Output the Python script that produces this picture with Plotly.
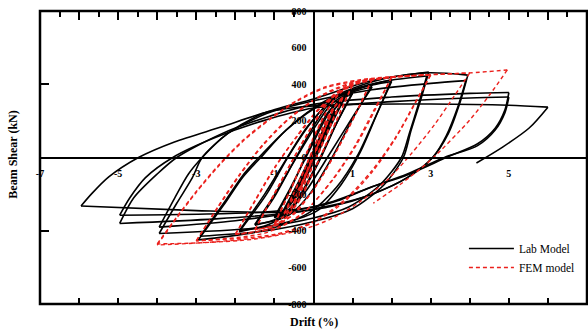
import plotly.graph_objects as go

# ---------------- data ----------------
# Each branch runs from one turning point to the next (drift %, beam shear kN)
LAB_X = [
    [0, -0.2, -0.4],
    [-0.4, 0, 0.4],
    [0.4, 0, -0.5],
    [-0.5, -0.2, 0.2, 0.55],
    [0.55, 0.25, -0.15, -0.5],
    [-0.5, -0.2, 0.2, 0.55],
    [0.55, 0.2, -0.3, -0.6, -0.75],
    [-0.75, -0.35, 0.1, 0.5, 0.75],
    [0.75, 0.4, -0.1, -0.55, -0.8],
    [-0.8, -0.4, 0.05, 0.5, 0.8],
    [0.8, 0.4, -0.1, -0.6, -1.0],
    [-1.0, -0.6, -0.15, 0.35, 0.7, 1.0],
    [1.0, 0.6, 0.1, -0.45, -0.75, -1.0],
    [-1.0, -0.6, -0.1, 0.4, 0.7, 1.0],
    [1.0, 0.6, 0.1, -0.45, -0.9, -1.5],
    [-1.5, -1.0, -0.5, 0.0, 0.4, 0.9, 1.5],
    [1.5, 1.05, 0.5, -0.1, -0.6, -1.0, -1.5],
    [-1.5, -1.0, -0.45, 0.05, 0.45, 0.9, 1.5],
    [1.5, 1.0, 0.4, -0.2, -0.7, -1.2, -1.9],
    [-1.9, -1.2, -0.66, -0.1, 0.5, 1.2, 2.0],
    [2.0, 1.6, 1.2, 0.7, 0.1, -0.8, -1.9],
    [-1.9, -1.25, -0.7, -0.15, 0.5, 1.2, 2.0],
    [2.0, 1.55, 1.15, 0.6, -0.1, -1.2, -2.95],
    [-2.95, -2.3, -1.8, -1.35, -0.7, 0.0, 0.8, 1.8, 2.95],
    [2.95, 2.75, 2.5, 2.3, 1.8, 1.0, 0.0, -1.2, -2.9],
    [-2.9, -2.3, -1.8, -1.4, -0.7, 0.0, 0.8, 1.8, 2.9],
    [2.9, 2.7, 2.45, 2.25, 1.7, 0.9, 0.0, -1.5, -3.95],
    [-3.95, -3.5, -3.1, -2.85, -2.2, -1.3, 0.0, 1.5, 2.9, 3.95],
    [3.95, 3.75, 3.45, 3.05, 2.4, 1.5, 0.5, -0.5, -2.0, -3.95],
    [-3.95, -3.55, -3.2, -2.85, -2.2, -1.2, 0.0, 1.5, 3.0, 3.9],
    [3.9, 3.7, 3.4, 3.05, 2.4, 1.5, 0.5, -0.5, -2.5, -4.96],
    [-4.96, -4.6, -4.0, -3.5, -2.4, -1.2, 0.0, 2.0, 4.0, 5.0],
    [5.0, 4.9, 4.65, 4.2, 3.4, 2.4, 1.5, 0.7, 0.0, -1.5, -4.96],
    [-4.96, -4.7, -4.3, -3.6, -2.5, -1.3, 0.0, 2.0, 4.0, 5.0],
    [5.0, 4.9, 4.65, 4.2, 3.35, 2.4, 1.5, 0.5, -0.5, -1.0, -3.0, -5.95],
    [-5.95, -5.67, -5.24, -4.48, -3.56, -2.37, -1.17, -0.33, 1.0, 3.0, 5.0, 6.0],
    [6.0, 5.52, 4.84, 4.17],
]
LAB_Y = [
    [0, -95, -185],
    [-185, 5, 195],
    [195, 0, -235],
    [-235, -80, 100, 255],
    [255, 115, -65, -240],
    [-240, -90, 95, 250],
    [250, 90, -120, -245, -290],
    [-290, -135, 70, 250, 320],
    [320, 165, -50, -240, -300],
    [-300, -140, 60, 255, 325],
    [325, 155, -70, -260, -330],
    [-330, -180, 30, 240, 320, 355],
    [355, 190, -40, -250, -310, -325],
    [-325, -170, 40, 245, 315, 350],
    [350, 190, -30, -240, -330, -370],
    [-370, -215, -20, 170, 295, 360, 395],
    [395, 230, 10, -200, -310, -345, -365],
    [-365, -205, -5, 170, 290, 350, 385],
    [385, 220, 15, -185, -310, -370, -405],
    [-405, -200, 0, 180, 320, 385, 425],
    [425, 225, 30, -150, -290, -360, -400],
    [-400, -200, -10, 170, 315, 380, 415],
    [415, 205, 20, -160, -300, -395, -450],
    [-450, -260, -105, 0, 150, 270, 360, 430, 467],
    [467, 320, 150, 0, -150, -280, -350, -400, -430],
    [-430, -250, -95, 0, 150, 265, 350, 415, 445],
    [445, 300, 130, 0, -150, -270, -330, -385, -415],
    [-415, -250, -110, 0, 130, 240, 320, 420, 462, 450],
    [450, 300, 130, 0, -110, -200, -260, -300, -345, -380],
    [-380, -220, -90, 0, 130, 240, 310, 370, 405, 420],
    [420, 280, 120, 0, -110, -200, -265, -300, -335, -360],
    [-360, -220, -90, 0, 125, 220, 290, 330, 350, 355],
    [355, 260, 160, 75, 0, -95, -160, -230, -270, -300, -315],
    [-315, -220, -110, 0, 110, 200, 270, 305, 325, 330],
    [330, 245, 150, 65, 0, -90, -160, -240, -290, -300, -290, -265],
    [-265, -196, -106, 0, 85, 166, 249, 276, 290, 292, 285, 275],
    [275, 161, 57, -30],
]

FEM_X = [
    [0, -0.375],
    [-0.375, 0, 0.375],
    [0.375, 0, -0.5],
    [-0.5, -0.15, 0.2, 0.5],
    [0.5, 0.15, -0.2, -0.5],
    [-0.5, -0.15, 0.2, 0.5],
    [0.5, 0.1, -0.35, -0.75],
    [-0.75, -0.35, 0.1, 0.45, 0.75],
    [0.75, 0.35, -0.1, -0.5, -0.75],
    [-0.75, -0.35, 0.1, 0.45, 0.75],
    [0.75, 0.35, -0.15, -0.6, -1.0],
    [-1.0, -0.6, -0.15, 0.3, 0.65, 1.0],
    [1.0, 0.6, 0.15, -0.35, -0.7, -1.0],
    [-1.0, -0.6, -0.15, 0.3, 0.65, 1.0],
    [1.0, 0.6, 0.1, -0.4, -0.9, -1.5],
    [-1.5, -1.05, -0.55, -0.05, 0.45, 0.95, 1.5],
    [1.5, 1.1, 0.6, 0.05, -0.5, -1.0, -1.5],
    [-1.5, -1.0, -0.5, 0.0, 0.5, 1.0, 1.5],
    [1.5, 1.1, 0.55, -0.05, -0.7, -1.3, -2.0],
    [-2.0, -1.5, -1.0, -0.45, 0.15, 0.8, 1.4, 2.0],
    [2.0, 1.6, 1.1, 0.5, -0.2, -0.9, -2.0],
    [-2.0, -1.5, -1.0, -0.4, 0.2, 0.85, 1.45, 2.0],
    [2.0, 1.55, 1.05, 0.45, -0.3, -1.2, -3.0],
    [-3.0, -2.45, -1.9, -1.3, -0.6, 0.2, 1.0, 2.0, 3.0],
    [3.0, 2.6, 2.1, 1.5, 0.8, 0.0, -1.0, -3.0],
    [-3.0, -2.45, -1.9, -1.3, -0.6, 0.2, 1.0, 2.0, 3.0],
    [3.0, 2.6, 2.1, 1.5, 0.8, 0.0, -1.0, -2.5, -4.0],
    [-4.0, -3.5, -3.0, -2.4, -1.8, -1.1, -0.4, 0.3, 1.2, 2.5, 4.0],
    [4.0, 3.6, 3.1, 2.5, 1.9, 1.2, 0.5, -0.3, -1.5, -2.8, -4.0],
    [-4.0, -3.5, -3.0, -2.4, -1.8, -1.1, -0.4, 0.3, 1.2, 2.5, 4.0, 4.96],
    [4.96, 4.5, 4.0, 3.0, 2.2, 1.53],
]
FEM_Y = [
    [0, -190],
    [-190, 10, 200],
    [200, 0, -245],
    [-245, -60, 120, 265],
    [265, 90, -95, -250],
    [-250, -65, 115, 260],
    [260, 60, -160, -305],
    [-305, -120, 100, 255, 330],
    [330, 140, -80, -250, -310],
    [-310, -125, 95, 250, 325],
    [325, 130, -110, -290, -360],
    [-360, -180, 40, 240, 350, 400],
    [400, 210, -10, -220, -330, -365],
    [-365, -185, 35, 235, 345, 395],
    [395, 205, -30, -250, -360, -395],
    [-395, -215, -20, 170, 330, 400, 430],
    [430, 250, 40, -160, -310, -370, -395],
    [-395, -200, 0, 180, 330, 400, 428],
    [428, 245, 20, -190, -340, -400, -420],
    [-420, -240, -60, 110, 270, 380, 420, 440],
    [440, 270, 70, -120, -290, -380, -418],
    [-418, -235, -55, 120, 275, 380, 420, 438],
    [438, 260, 60, -130, -310, -410, -455],
    [-455, -270, -95, 70, 220, 340, 410, 440, 452],
    [452, 300, 110, -70, -230, -350, -420, -455],
    [-455, -275, -100, 65, 215, 335, 405, 438, 450],
    [450, 295, 105, -80, -240, -355, -425, -460, -478],
    [-478, -330, -190, -40, 90, 210, 310, 380, 420, 445, 462],
    [462, 335, 180, 20, -120, -240, -330, -395, -445, -465, -472],
    [-472, -325, -185, -35, 95, 215, 315, 385, 425, 448, 462, 478],
    [478, 340, 205, -14, -150, -250],
]

X_TICKS = [-7, -5, -3, -1, 1, 3, 5]
X_TICK_TEXT = ["-7", "-5", "-3", "-1", "1", "3", "5"]
Y_TICKS = [-800, -600, -400, -200, 0, 200, 400, 600, 800]
Y_TICK_TEXT = ["-800", "-600", "-400", "-200", "0", "200", "400", "600", "800"]
FRAME_BOTTOM_TICKS = [-6, -5, -4, -3, -2, -1, 1, 2, 3, 4, 5, 6]
FRAME_TOP_MAJOR = [-6, -5, -4, -3, -2, -1, 1, 2, 3, 4, 5, 6]
FRAME_TOP_MINOR = [-6.5, -5.5, -4.5, -3.5, -2.5, -1.5, -0.5, 0.5, 1.5, 2.5, 3.5, 4.5, 5.5, 6.5]
FRAME_LEFT_TICKS = [-400, 400]
X_RANGE = [-7, 7]
Y_RANGE = [-800, 800]

SERIF = "Liberation Serif, Times New Roman, serif"
RED = "rgb(235,32,28)"

fig = go.Figure()
for i, (xs, ys) in enumerate(zip(LAB_X, LAB_Y)):
    fig.add_trace(go.Scatter(
        x=xs, y=ys, mode="lines", name="Lab Model", legendgroup="lab",
        showlegend=(i == 0),
        line=dict(color="black", width=1.6, shape="spline", smoothing=0.8),
        hoverinfo="skip"))
for i, (xs, ys) in enumerate(zip(FEM_X, FEM_Y)):
    fig.add_trace(go.Scatter(
        x=xs, y=ys, mode="lines", name="FEM model", legendgroup="fem",
        showlegend=(i == 0),
        line=dict(color=RED, width=1.4, dash="4px,3px", shape="spline", smoothing=0.8),
        hoverinfo="skip"))

# empty traces so the frame-tick axes get drawn
for xa, ya in [("x2", "y"), ("x3", "y"), ("x4", "y"), ("x", "y2")]:
    fig.add_trace(go.Scatter(x=[None], y=[None], xaxis=xa, yaxis=ya, mode="lines",
                             showlegend=False, hoverinfo="skip"))

tickfont = dict(family=SERIF, size=10, color="black", weight="bold")
frame_tick = dict(showline=False, showgrid=False, zeroline=False, showticklabels=False,
                  tickcolor="black", tickwidth=2, ticks="inside", tickmode="array",
                  layer="above traces")

fig.update_layout(
    width=588, height=335,
    margin=dict(l=40, r=1, t=11, b=31),
    paper_bgcolor="white", plot_bgcolor="white",
    showlegend=True,
    legend=dict(x=0.775, y=0.239, xanchor="left", yanchor="top",
                bgcolor="rgba(0,0,0,0)", borderwidth=0, itemwidth=45,
                font=dict(family=SERIF, size=11.5, color="black"),
                tracegroupgap=0),
    xaxis=dict(range=X_RANGE, anchor="free", position=0.5, showline=True,
               linecolor="black", linewidth=2, showgrid=False, zeroline=False,
               tickmode="array", tickvals=X_TICKS, ticktext=X_TICK_TEXT,
               ticks="", tickfont=tickfont, ticklabelstandoff=6),
    yaxis=dict(range=Y_RANGE, anchor="free", position=0.5, showline=True,
               linecolor="black", linewidth=2, showgrid=False, zeroline=False,
               tickmode="array", tickvals=Y_TICKS, ticktext=Y_TICK_TEXT,
               ticks="", tickfont=tickfont, ticklabelstandoff=4),
    xaxis2=dict(overlaying="x", range=X_RANGE, anchor="free", position=0, side="bottom",
                tickvals=FRAME_BOTTOM_TICKS, ticklen=6, **frame_tick),
    xaxis3=dict(overlaying="x", range=X_RANGE, anchor="free", position=1, side="top",
                tickvals=FRAME_TOP_MAJOR, ticklen=8, **frame_tick),
    xaxis4=dict(overlaying="x", range=X_RANGE, anchor="free", position=1, side="top",
                tickvals=FRAME_TOP_MINOR, ticklen=5, **frame_tick),
    yaxis2=dict(overlaying="y", range=Y_RANGE, anchor="free", position=0, side="left",
                tickvals=FRAME_LEFT_TICKS, ticklen=8, **frame_tick),
    shapes=[dict(type="rect", xref="paper", yref="paper", x0=0, x1=1, y0=0, y1=1,
                 line=dict(color="black", width=2.5), layer="above")],
    annotations=[
        dict(text="Beam Shear (kN)", xref="paper", yref="paper", x=-0.051, y=0.51,
             textangle=-90, showarrow=False, xanchor="center", yanchor="middle",
             font=dict(family=SERIF, size=12, color="black", weight="bold")),
        dict(text="Drift (%)", xref="paper", yref="paper", x=0.5, y=-0.062,
             showarrow=False, xanchor="center", yanchor="middle",
             font=dict(family=SERIF, size=12, color="black", weight="bold")),
    ],
)

fig.write_html("out.html")
